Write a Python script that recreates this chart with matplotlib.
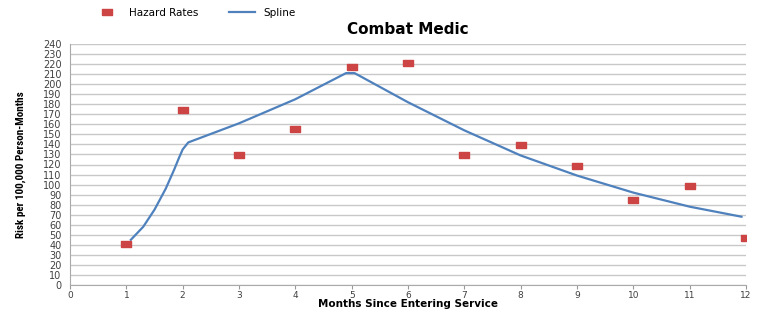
import matplotlib.pyplot as plt
from matplotlib import font_manager

# Data
months = [1, 2, 3, 4, 5, 6, 7, 8, 9, 10, 11, 12]
hazard = [41, 174, 129, 155, 217, 221, 129, 139, 119, 85, 99, 47]

spline_x = [1.08, 1.3, 1.5, 1.7, 1.85, 1.93, 2.0, 2.1, 3.0, 4.0, 4.9, 5.05, 5.15,
            6.0, 7.0, 8.0, 9.0, 10.0, 11.0, 11.92]
spline_y = [45, 58, 75, 96, 115, 126, 135, 142, 161, 185, 211, 211, 208,
            182, 154, 129, 109, 92, 78, 68]

xticks = list(range(0, 13))
yticks = list(range(0, 250, 10))

names = {f.name for f in font_manager.fontManager.ttflist}
narrow = 'DejaVu Sans'
for cand in ['Liberation Sans Narrow', 'DejaVu Sans Condensed', 'Roboto Condensed']:
    if cand in names:
        narrow = cand
        break

fig = plt.figure(figsize=(7.6, 3.1), dpi=100)
ax = fig.add_axes([70 / 760, 25 / 310, 676 / 760, 241 / 310])

rect = [(-1, -0.6), (1, -0.6), (1, 0.6), (-1, 0.6), (-1, -0.6)]
ax.plot(months, hazard, linestyle='none', marker=rect, markersize=7.5,
        color='#cc4444', label='Hazard Rates', zorder=3)
ax.plot(spline_x, spline_y, color='#4f81bd', linewidth=1.6, label='Spline', zorder=2)

ax.set_xlim(0, 12)
ax.set_ylim(0, 240)
ax.set_xticks(xticks)
ax.set_yticks(yticks)
ax.tick_params(axis='both', labelsize=7, colors='#404040', length=3, width=0.8)
ax.tick_params(axis='y', length=0, pad=6)
ax.tick_params(axis='x', color='#999999', pad=1, labelsize=6.5)
ax.grid(axis='y', color='#c8c8c8', linewidth=1)
ax.set_axisbelow(True)
for s in ['top', 'right']:
    ax.spines[s].set_visible(False)
ax.spines['left'].set_color('#aaaaaa')
ax.spines['bottom'].set_color('#aaaaaa')

fig.text(408 / 760, 1 - 309 / 310, 'Months Since Entering Service', ha='center',
         va='bottom', fontsize=7.5, fontweight='bold')
ysize = 8 if narrow != 'DejaVu Sans' else 6
ax.set_ylabel('Risk per 100,000 Person-Months', fontsize=ysize, fontweight='bold',
              family=narrow, labelpad=12)
fig.text(408 / 760, 1 - 30 / 310, 'Combat Medic', ha='center', va='center',
         fontsize=11, fontweight='bold')

fig.legend(loc='center left', bbox_to_anchor=(85 / 760, 1 - 13 / 310), ncol=2,
           frameon=False, fontsize=7.5, handlelength=2.5, columnspacing=3)

fig.savefig('out.png', dpi=100)
